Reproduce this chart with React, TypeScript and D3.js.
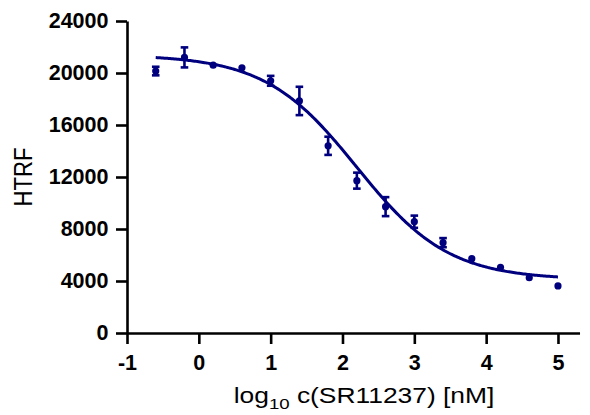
import React, { useRef, useEffect } from "react";
import * as d3 from "d3";

// log10 concentration [nM]
const logConc = [-0.6, -0.2, 0.2, 0.6, 1.0, 1.4, 1.8, 2.2, 2.6, 3.0, 3.4, 3.8, 4.2, 4.6, 5.0];
// mean HTRF signal
const htrfMean = [20150, 21200, 20600, 20400, 19400, 17850, 14400, 11720, 9720, 8560, 6950, 5720, 5050, 4250, 3620];
// standard deviation (0 = bar hidden behind the symbol)
const htrfSd = [330, 770, 0, 0, 380, 1090, 700, 615, 730, 470, 350, 0, 0, 0, 0];

// fitted 4PL parameters
const fitTop = 21400;
const fitBottom = 4100;
const fitLogIC50 = 2.2;
const fitHill = 0.68;
const fitRange = [-0.6, 5.0];

const xTicks = [-1, 0, 1, 2, 3, 4, 5];
const yTicks = [0, 4000, 8000, 12000, 16000, 20000, 24000];

const COLOR = "#00007f";
const FONT = "'Liberation Sans', Arial, sans-serif";

const App = () => {
  const ref = useRef<SVGSVGElement>(null);
  const width = 590;
  const height = 415;

  useEffect(() => {
    const container = ref.current;
    if (!container) return;
    d3.select(container).selectChildren().remove();
    const svg = d3.select(container);

    const x = d3.scaleLinear().domain([-1, 5.3]).range([127, 127 + 6.3 * 71.83]);
    const y = d3.scaleLinear().domain([0, 24000]).range([333, 21]);

    // Ejes
    const gx = svg
      .append("g")
      .attr("transform", `translate(0, ${y(0)})`)
      .call(
        d3.axisBottom(x).tickValues(xTicks).tickSize(11).tickSizeOuter(0).tickPadding(11)
          .tickFormat((d) => String(d))
      );
    const gy = svg
      .append("g")
      .attr("transform", `translate(${x(-1)}, 0)`)
      .call(
        d3.axisLeft(y).tickValues(yTicks).tickSize(11).tickSizeOuter(0).tickPadding(7.5)
          .tickFormat((d) => String(d))
      );

    [gx, gy].forEach((g) => {
      g.selectAll("path, line").attr("stroke", "#000").attr("stroke-width", 2.6);
      g.selectAll("text")
        .attr("fill", "#000")
        .style("font-family", FONT)
        .style("font-size", "21.5px")
        .style("font-weight", "bold");
    });

    // Curva ajustada
    const fit = (v: number) =>
      fitBottom + (fitTop - fitBottom) / (1 + Math.pow(10, (v - fitLogIC50) * fitHill));
    const xs = d3.range(fitRange[0], fitRange[1] + 1e-9, 0.02);
    svg
      .append("path")
      .datum(xs)
      .attr("fill", "none")
      .attr("stroke", COLOR)
      .attr("stroke-width", 3)
      .attr("d", d3.line<number>().x((d) => x(d)).y((d) => y(fit(d))).curve(d3.curveMonotoneX));

    // Barras de error
    const pts = logConc.map((c, i) => ({ c, m: htrfMean[i], sd: htrfSd[i] }));
    const eb = svg.append("g").attr("stroke", COLOR).attr("stroke-width", 2.6);
    pts
      .filter((d) => d.sd > 0)
      .forEach((d) => {
        const cx = x(d.c);
        eb.append("line").attr("x1", cx).attr("x2", cx).attr("y1", y(d.m - d.sd)).attr("y2", y(d.m + d.sd));
        [d.m - d.sd, d.m + d.sd].forEach((v) => {
          eb.append("line").attr("x1", cx - 3.8).attr("x2", cx + 3.8).attr("y1", y(v)).attr("y2", y(v));
        });
      });

    // Puntos
    svg
      .append("g")
      .selectAll("circle")
      .data(pts)
      .enter()
      .append("circle")
      .attr("cx", (d) => x(d.c))
      .attr("cy", (d) => y(d.m))
      .attr("r", 3.6)
      .attr("fill", COLOR);

    // Rótulos
    svg
      .append("text")
      .attr("transform", `translate(32, 177) rotate(-90) scale(1, 1.2)`)
      .attr("text-anchor", "middle")
      .attr("textLength", 59)
      .attr("lengthAdjust", "spacingAndGlyphs")
      .style("font-family", FONT)
      .style("font-size", "22px")
      .text("HTRF");

    const xl = svg
      .append("text")
      .attr("transform", "translate(364, 403) scale(1.2, 1)")
      .attr("text-anchor", "middle")
      .style("font-family", FONT)
      .style("font-size", "22px");
    xl.append("tspan").text("log");
    xl.append("tspan").attr("dy", 6).style("font-size", "15.5px").text("10");
    xl.append("tspan").attr("dy", -6).text(" c(SR11237) [nM]");
  }, []);

  return (
    <svg
      ref={ref}
      width={width}
      height={height}
      style={{ position: "absolute", left: 0, top: 0, background: "#fff" }}
    />
  );
};

export default App;
